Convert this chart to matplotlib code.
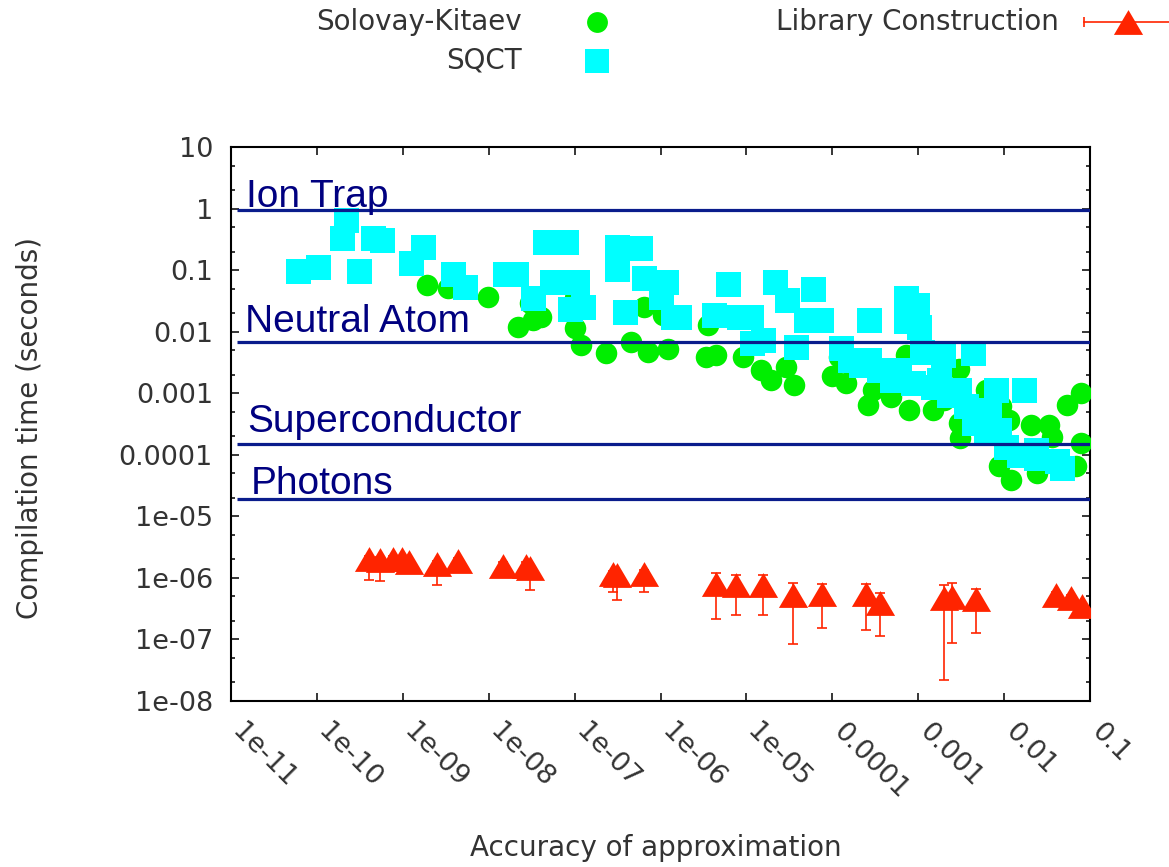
import numpy as np
import matplotlib
matplotlib.use('Agg')
import matplotlib.pyplot as plt
from matplotlib.lines import Line2D
from matplotlib.transforms import ScaledTranslation
from matplotlib.ticker import LogLocator, NullLocator, NullFormatter

# ---------------- data ----------------
sk_x = [1.92e-9, 3.4e-9, 9.8e-9, 2.2e-8, 3.0e-8, 4.1e-8, 3.25e-8, 1.0e-7, 1.2e-7, 2.34e-7,
        4.56e-7, 7.1e-7, 1.22e-6, 6.5e-7, 1.0e-7, 1.06e-6, 3.4e-6, 4.4e-6, 3.55e-6, 9.1e-6,
        1.48e-5, 1.94e-5, 2.9e-5, 3.6e-5, 1.0e-4, 1.44e-4, 1.2e-4, 2.57e-4, 2.94e-4, 4.8e-4,
        7.9e-4, 1.47e-3, 7.2e-4, 3.0e-3, 3.1e-3, 6.1e-3, 9.2e-3, 0.0114, 0.0204, 0.0334,
        0.0365, 8.7e-3, 0.012, 0.0244, 0.0545, 0.078, 0.078, 0.068, 3.0e-3, 4.0e-4, 2.0e-3]
sk_y = [0.0575, 0.051, 0.0367, 0.0121, 0.0294, 0.0176, 0.0156, 0.0114, 0.0061, 0.0045,
        0.0069, 0.00475, 0.0053, 0.0255, 0.035, 0.0187, 0.0039, 0.0042, 0.0129, 0.0039,
        0.0024, 0.00165, 0.0027, 0.00137, 0.00187, 0.00146, 0.0039, 6.5e-4, 0.00114, 8.8e-4,
        5.3e-4, 5.3e-4, 0.0042, 3.3e-4, 1.87e-4, 0.00114, 6.1e-4, 3.7e-4, 3.07e-4, 3.07e-4,
        1.98e-4, 6.5e-5, 3.9e-5, 5.0e-5, 6.5e-4, 1.0e-3, 1.55e-4, 6.5e-5, 0.0025, 0.00137, 7.8e-4]

sqct_x = [6.1e-11, 1.03e-10, 1.94e-10, 2.2e-10, 3.1e-10, 4.45e-10, 5.65e-10, 1.24e-9, 1.72e-9, 3.8e-9,
          5.3e-9, 1.53e-8, 2.1e-8, 3.3e-8, 4.5e-8, 8.0e-8, 5.45e-8, 1.06e-7, 8.9e-8, 1.25e-7,
          3.1e-7, 5.7e-7, 3.1e-7, 3.9e-7, 6.5e-7, 1.02e-6, 1.39e-6, 1.16e-6, 1.63e-6, 6.1e-6,
          4.25e-6, 8.3e-6, 1.14e-5, 1.55e-5, 1.17e-5, 2.17e-5, 3.0e-5, 5.9e-5, 7.4e-5, 3.8e-5,
          4.9e-5, 1.26e-4, 2.65e-4, 7.2e-4, 9.8e-4, 7.2e-4, 1.03e-3, 1.12e-3, 1.92e-3, 4.3e-3,
          2.7e-4, 3.5e-4, 5.0e-4, 8.6e-4, 1.47e-3, 3.0e-3, 3.6e-3, 4.5e-3, 6.1e-3, 8.0e-3,
          0.0171, 0.0105, 0.0149, 0.0234, 0.0417, 1.6e-4, 2.17e-4, 6.0e-4, 1.75e-3, 2.3e-3,
          6.7e-3, 8.7e-3, 0.0234, 0.047]
sqct_y = [0.097, 0.111, 0.33, 0.65, 0.097, 0.33, 0.31, 0.13, 0.24, 0.086,
          0.054, 0.086, 0.086, 0.035, 0.29, 0.29, 0.065, 0.065, 0.023, 0.025,
          0.24, 0.227, 0.105, 0.0206, 0.075, 0.037, 0.0176, 0.065, 0.017, 0.059,
          0.0187, 0.0176, 0.0176, 0.0074, 0.0066, 0.065, 0.033, 0.0495, 0.0156, 0.0057,
          0.0156, 0.0054, 0.0156, 0.035, 0.027, 0.0147, 0.0121, 0.00475, 0.0042, 0.0045,
          0.0035, 0.0024, 0.00165, 0.00146, 0.00128, 0.00114, 6.1e-4, 3.3e-4, 2.25e-4, 0.00114,
          0.00114, 1.36e-4, 1.0e-4, 8.8e-5, 7.8e-5, 0.0035, 0.0029, 0.0024, 0.00165, 9.4e-4,
          5.4e-4, 2.5e-4, 1.2e-4, 6.2e-5]

lib_x = [4.0e-10, 5.4e-10, 7.6e-10, 9.7e-10, 1.17e-9, 2.5e-9, 4.4e-9, 1.46e-8, 2.75e-8, 3.0e-8,
         2.8e-7, 3.1e-7, 6.5e-7, 4.4e-6, 7.6e-6, 1.55e-5, 3.5e-5, 7.65e-5, 2.45e-4, 3.6e-4,
         2.0e-3, 2.5e-3, 4.7e-3, 0.040, 0.060, 0.081]
lib_y = [2.05e-6, 1.95e-6, 2.0e-6, 2.0e-6, 1.78e-6, 1.68e-6, 1.86e-6, 1.55e-6, 1.55e-6, 1.43e-6,
         1.15e-6, 1.1e-6, 1.17e-6, 8.1e-7, 7.65e-7, 7.65e-7, 5.25e-7, 5.5e-7, 5.5e-7, 3.9e-7,
         4.8e-7, 4.95e-7, 4.5e-7, 5.25e-7, 4.8e-7, 3.5e-7]
lib_lo = [9.1e-7, 8.9e-7, 1.7e-6, 1.7e-6, 1.5e-6, 7.8e-7, 1.5e-6, 1.3e-6, 1.3e-6, 6.3e-7,
          6.0e-7, 4.3e-7, 6.0e-7, 2.15e-7, 2.45e-7, 2.45e-7, 8.3e-8, 1.55e-7, 1.45e-7, 1.15e-7,
          2.2e-8, 8.9e-8, 1.25e-7, 4.7e-7, 4.3e-7, 3.1e-7]
lib_hi = [2.3e-6, 2.2e-6, 2.3e-6, 2.3e-6, 2.0e-6, 1.9e-6, 2.1e-6, 1.8e-6, 1.8e-6, 1.6e-6,
          1.3e-6, 1.25e-6, 1.35e-6, 1.2e-6, 1.1e-6, 1.1e-6, 8.3e-7, 8.0e-7, 8.0e-7, 5.7e-7,
          7.8e-7, 8.3e-7, 6.6e-7, 5.8e-7, 5.3e-7, 3.9e-7]

tech_names = ['Ion Trap', 'Neutral Atom', 'Superconductor', 'Photons']
tech_times = [0.95, 6.8e-3, 1.49e-4, 1.93e-5]
line_x_range = [1.17e-11, 0.1]

x_ticks = [1e-11, 1e-10, 1e-9, 1e-8, 1e-7, 1e-6, 1e-5, 1e-4, 1e-3, 1e-2, 1e-1]
x_tick_labels = ['1e-11', '1e-10', '1e-09', '1e-08', '1e-07', '1e-06', '1e-05',
                 '0.0001', '0.001', '0.01', '0.1']
y_ticks = [10, 1, 0.1, 0.01, 1e-3, 1e-4, 1e-5, 1e-6, 1e-7, 1e-8]
y_tick_labels = ['10', '1', '0.1', '0.01', '0.001', '0.0001', '1e-05', '1e-06', '1e-07', '1e-08']

# ---------------- style ----------------
GREEN = '#00ee00'
CYAN = '#00ffff'
RED = '#ff2400'
NAVY_LINE = '#0a1c8c'
NAVY_TEXT = '#000080'
TXT = '#333333'

plt.rcParams['font.family'] = ['DejaVu Sans']

W, H = 1169, 867
fig = plt.figure(figsize=(W / 100, H / 100), dpi=100)
ax = fig.add_axes([231 / W, 1 - 701 / H, (1090 - 231) / W, (701 - 147) / H])
ax.set_xscale('log')
ax.set_yscale('log')
ax.set_xlim(1e-11, 0.1)
ax.set_ylim(1e-8, 10)

# data
ax.plot(sk_x, sk_y, 'o', color=GREEN, ms=15.5, mew=0, zorder=3)
ax.plot(sqct_x, sqct_y, 's', color=CYAN, ms=18, mew=0, zorder=4)

tri = [(0, 0.85), (-1, -0.85), (1, -0.85)]
yerr = [np.array(lib_y) - np.array(lib_lo), np.array(lib_hi) - np.array(lib_y)]
ax.errorbar(lib_x, lib_y, yerr=yerr, fmt='none', ecolor=RED, elinewidth=1.2,
            capsize=3.3, capthick=1.2, zorder=5)
ax.plot(lib_x, lib_y, ls='none', marker=tri, color=RED, ms=21, mew=0, zorder=6)

# technology thresholds
ax.hlines(tech_times, line_x_range[0], line_x_range[1], colors=NAVY_LINE, lw=2.3, zorder=7)
text_dx = [0, -1, 1, 3.5]
text_dy = [2.2, 7.4, 8.6, 3.4]
for name, t, dx, dy in zip(tech_names, tech_times, text_dx, text_dy):
    ax.annotate(name, xy=(1.5e-11, t), xytext=(dx, dy), textcoords='offset points',
                ha='left', va='baseline', fontsize=28, family='Liberation Sans',
                color=NAVY_TEXT, zorder=8)

# axes & ticks
for s in ax.spines.values():
    s.set_linewidth(1.5)
ax.set_xticks(x_ticks)
ax.set_xticklabels(x_tick_labels)
ax.xaxis.set_minor_locator(NullLocator())
ax.set_yticks(y_ticks)
ax.set_yticklabels(y_tick_labels)
ax.yaxis.set_minor_locator(LogLocator(base=10, subs=(2, 5), numticks=50))
ax.yaxis.set_minor_formatter(NullFormatter())
ax.tick_params(which='both', direction='in', top=True, right=True, width=1.1,
               colors='black', labelcolor=TXT, labelsize=19.5)
ax.tick_params(which='major', length=5.8)
ax.tick_params(which='minor', length=3)
ax.tick_params(axis='y', pad=13)
ax.tick_params(axis='x', pad=17)
off = ScaledTranslation(5 / 100, -3 / 100, fig.dpi_scale_trans)
for lab in ax.get_xticklabels():
    lab.set_rotation(-45)
    lab.set_ha('left')
    lab.set_va('center')
    lab.set_rotation_mode('anchor')
    lab.set_transform(lab.get_transform() + off)

fig.text(656 / W, 1 - 848 / H, 'Accuracy of approximation', ha='center', va='center',
         fontsize=20, color=TXT)
fig.text(30 / W, 1 - 428 / H, 'Compilation time (seconds)', ha='center', va='center',
         rotation=90, fontsize=20, color=TXT)

# legend (gnuplot style key)
fig.text(522 / W, 1 - 22 / H, 'Solovay-Kitaev', ha='right', va='center', fontsize=20, color=TXT)
fig.text(522 / W, 1 - 60 / H, 'SQCT', ha='right', va='center', fontsize=20, color=TXT)
fig.text(1059 / W, 1 - 22 / H, 'Library Construction', ha='right', va='center', fontsize=20, color=TXT)
fig.add_artist(Line2D([597 / W], [1 - 22 / H], marker='o', ms=15, mew=0, color=GREEN,
                      transform=fig.transFigure))
fig.add_artist(Line2D([597 / W], [1 - 61 / H], marker='s', ms=17, mew=0, color=CYAN,
                      transform=fig.transFigure))
fig.add_artist(Line2D([1084 / W, 1180 / W], [1 - 22 / H, 1 - 22 / H], lw=1.2, color=RED,
                      transform=fig.transFigure))
fig.add_artist(Line2D([1084 / W], [1 - 22 / H], marker='|', ms=7, mew=1.2, color=RED,
                      transform=fig.transFigure))
fig.add_artist(Line2D([1128 / W], [1 - 22 / H], marker=tri, ms=21, mew=0, color=RED,
                      transform=fig.transFigure))

fig.savefig('out.png', dpi=100)
